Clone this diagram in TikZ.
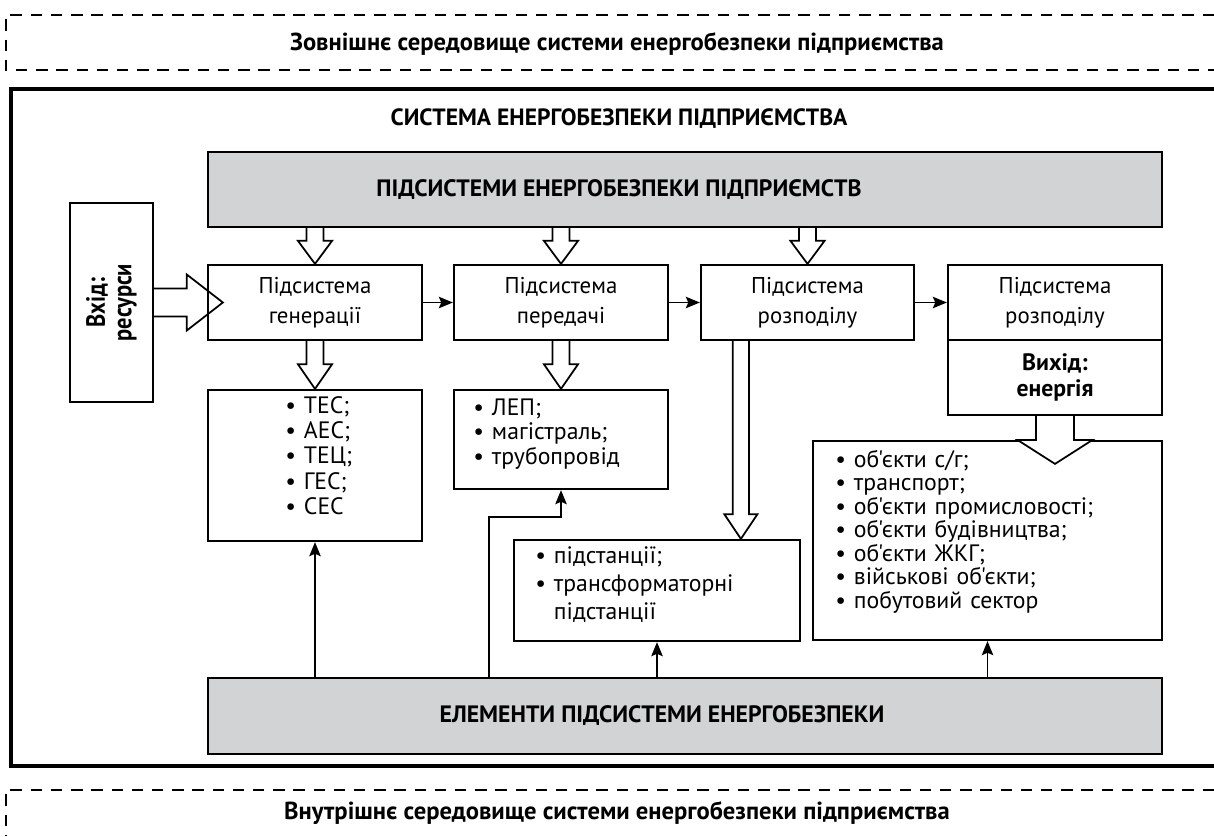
\documentclass[tikz,border=0pt]{standalone}
\usepackage{graphicx}
\usepackage{fontspec}
\setmainfont{PT Sans}[Ligatures=TeXOff]
\usetikzlibrary{calc,arrows.meta}
\definecolor{boxgray}{HTML}{D1D3D4}
\newcommand{\hdown}[6]{% #1 start (y), #2 tip, #3 stem half, #4 head half, #5 head length, #6 extra style
  \draw[hol,#6] let \p1=(#1), \p2=(#2) in
    (\x2-#3,\y1) -- (\x2-#3,\y2+#5) -- (\x2-#4,\y2+#5) -- (\x2,\y2)
    -- (\x2+#4,\y2+#5) -- (\x2+#3,\y2+#5) -- (\x2+#3,\y1);}
\newcommand{\hright}[5]{% #1 start (x), #2 tip, #3 stem half, #4 head half, #5 head length
  \draw[hol,fill=none] let \p1=(#1), \p2=(#2) in
    (\x1,\y2+#3) -- (\x2-#5,\y2+#3) -- (\x2-#5,\y2+#4) -- (\x2,\y2)
    -- (\x2-#5,\y2-#4) -- (\x2-#5,\y2-#3) -- (\x1,\y2-#3);}
\begin{document}
\begin{tikzpicture}[x=0.02cm,y=-0.02cm,
  box/.style={draw, line width=1.3pt, inner sep=0pt, align=center,
    font=\fontsize{13}{17}\selectfont},
  gbox/.style={draw, line width=1.4pt, fill=boxgray, inner sep=0pt},
  gtitle/.style={inner sep=0pt, font=\fontsize{13.5}{16}\selectfont\bfseries},
  lbox/.style={draw, line width=1.3pt, inner sep=0pt},
  ltext/.style={inner sep=0pt, anchor=base west, align=left, text width=6cm},
  title/.style={inner sep=0pt, font=\fontsize{13.4}{15}\selectfont\bfseries},
  conn/.style={line width=1pt, -{Stealth[length=8pt,width=6.5pt,inset=1.4pt]}},
  hol/.style={line width=1pt, fill=white, line join=miter},
  env/.style={line width=1.4pt, dash pattern=on 6.5pt off 5pt}]
\useasboundingbox (0,0) rectangle (1214,836);
% environments
\draw[env] (1214,15) -- (6,15) -- (6,70) -- (1214,70);
\node[title, font=\fontsize{14}{16}\selectfont\bfseries] (ext) at (617,44) {Зовнішнє середовище системи енергобезпеки підприємства};
\draw[env] (1214,790) -- (6,790) -- (6,836);
\node[title, font=\fontsize{14}{16}\selectfont\bfseries] (int) at (617,813) {Внутрішнє середовище системи енергобезпеки підприємства};
% system frame
\draw[line width=2.2pt] (1214,89) -- (11,89) -- (11,766) -- (1214,766);
\node[title] (sys) at (619,119) {СИСТЕМА ЕНЕРГОБЕЗПЕКИ ПІДПРИЄМСТВА};
% gray boxes
\node[gbox, minimum width=19.08cm, minimum height=1.5cm] (topg) at (685,189.5) {};
\node[gtitle] (topgt) at (619,189.5) {ПІДСИСТЕМИ ЕНЕРГОБЕЗПЕКИ ПІДПРИЄМСТВ};
\node[gbox, minimum width=19.08cm, minimum height=1.52cm] (botg) at (685,716) {};
\node[gtitle] (botgt) at (662,716) {ЕЛЕМЕНТИ ПІДСИСТЕМИ ЕНЕРГОБЕЗПЕКИ};
% input
\node[box, minimum width=1.66cm, minimum height=3.98cm] (inp) at (111.5,302.5) {};
\node[inner sep=0pt, rotate=90, align=center, font=\fontsize{15}{15}\selectfont\bfseries] (inpt) at (inp.center) {\scalebox{0.85}[1]{Вхід:}\\\scalebox{0.85}[1]{ресурси}};
% subsystems
\node[box, minimum width=4.28cm, minimum height=1.5cm] (gen) at (315,302.5) {Підсистема\\генерації};
\node[box, minimum width=4.28cm, minimum height=1.5cm] (trans) at (561,302.5) {Підсистема\\передачі};
\node[box, minimum width=4.26cm, minimum height=1.5cm] (dist) at (807.5,302.5) {Підсистема\\розподілу};
\node[box, minimum width=4.28cm, minimum height=1.5cm] (dist2) at (1055,302.5) {Підсистема\\розподілу};
\node[box, minimum width=4.28cm, minimum height=1.5cm, font=\fontsize{13.5}{14.5}\selectfont\bfseries] (out) at (1055,377.5) {Вихід:\\енергія};
% lists
\node[lbox, minimum width=4.28cm, minimum height=3.02cm] (genlist) at (315,465.5) {};
\node[ltext, text width=2cm, font=\fontsize{13.5}{14.5}\selectfont] (genlt) at (285,413) {• ТЕС;\\• АЕС;\\• ТЕЦ;\\• ГЕС;\\• СЕС};
\node[lbox, minimum width=4.28cm, minimum height=1.98cm] (translist) at (561,439.5) {};
\node[ltext, text width=3.6cm, font=\fontsize{13.5}{14.2}\selectfont] (translt) at (473,415) {• ЛЕП;\\• магістраль;\\• трубопровід};
\node[lbox, minimum width=5.72cm, minimum height=2.02cm] (sub) at (657,590.5) {};
\node[ltext, text width=5cm, font=\fontsize{13.5}{16.2}\selectfont] (subt) at (535,563) {• підстанції;\\• трансформаторні\\\hphantom{• }підстанції};
\node[lbox, minimum width=6.98cm, minimum height=3.98cm] (cons) at (987.5,540.5) {};
\node[ltext, text width=6.4cm, font=\fontsize{13.5}{13.4}\selectfont] (const) at (835,467) {• об'єкти с/г;\\• транспорт;\\• об'єкти промисловості;\\• об'єкти будівництва;\\• об'єкти ЖКГ;\\• військові об'єкти;\\• побутовий сектор};
% hollow arrows
\hdown{topg.south}{gen.north}{4.8pt}{9.7pt}{13.1pt}{}
\hdown{topg.south}{trans.north}{4.8pt}{9.7pt}{13.1pt}{}
\hdown{topg.south}{dist.north}{4.8pt}{9.7pt}{13.1pt}{}
\hdown{gen.south}{genlist.north}{4.8pt}{9.7pt}{14pt}{}
\hdown{trans.south}{translist.north}{4.8pt}{9.7pt}{14pt}{}
\coordinate (ds) at ($(sub.north west)+(228,0)$);
\hdown{dist.south}{ds}{4.6pt}{9.4pt}{14pt}{}
\hdown{out.south}{$(out.south |- cons.north)+(0,24)$}{10.8pt}{21.3pt}{13.6pt}{}
\hright{inp.east}{$(gen.west)+(16,0)$}{8pt}{15.9pt}{20.5pt}
% thin connectors
\draw[conn] (gen.east) -- (trans.west);
\draw[conn] (trans.east) -- (dist.west);
\draw[conn] (dist.east) -- (dist2.west);
\draw[conn] (botg.north -| genlist.south) -- (genlist.south);
\coordinate (tb) at (489,517);
\draw[conn] (tb |- botg.north) -- (tb) -| (translist.south);
\draw[conn] (botg.north -| sub.south) -- (sub.south);
\draw[conn] (botg.north -| cons.south) -- (cons.south);
\end{tikzpicture}
\end{document}
